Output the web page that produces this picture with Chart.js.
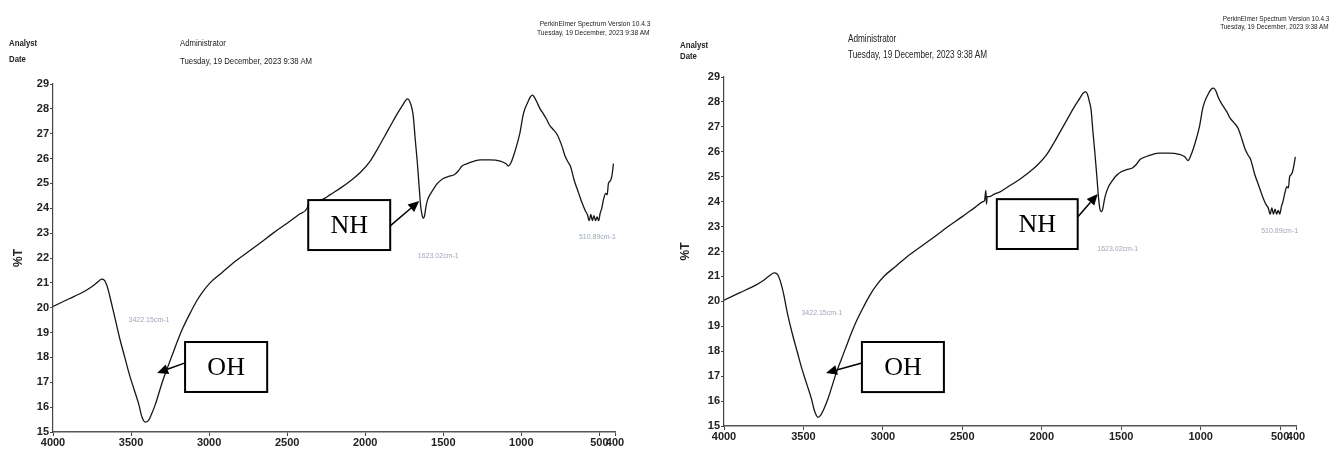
<!DOCTYPE html>
<html>
<head>
<meta charset="utf-8">
<script src="https://cdn.jsdelivr.net/npm/chart.js@4.4.1/dist/chart.umd.min.js"></script>
<style>
  body{ margin:0; background:#fff; width:1334px; height:460px; position:relative; overflow:hidden; }
  .pane{ position:absolute; top:0; width:667px; height:460px; }
  .pane canvas{ position:absolute; left:0; top:0; }
  .txt{ position:absolute; font-family:"Liberation Sans",Arial,sans-serif; color:#222; white-space:nowrap; line-height:1; }
  .l{ transform-origin:left center; }
  .r{ transform-origin:right center; }
  .b{ font-weight:bold; }
</style>
</head>
<body>
<div class="pane" id="leftPane" style="left:0">
  <canvas id="leftCanvas" width="667" height="460"></canvas>
  <div class="txt r" style="right:17px;top:20px;font-size:8px;transform:scaleX(0.83)">PerkinElmer Spectrum Version 10.4.3</div>
  <div class="txt r" style="right:17px;top:29px;font-size:8px;transform:scaleX(0.83)">Tuesday, 19 December, 2023 9:38 AM</div>
  <div class="txt l b" style="left:9px;top:38px;font-size:9.5px;transform:scaleX(0.82)">Analyst</div>
  <div class="txt l b" style="left:9px;top:54px;font-size:9.5px;transform:scaleX(0.82)">Date</div>
  <div class="txt l" style="left:180px;top:38px;font-size:9.5px;transform:scaleX(0.82)">Administrator</div>
  <div class="txt l" style="left:180px;top:56px;font-size:9.5px;transform:scaleX(0.82)">Tuesday, 19 December, 2023 9:38 AM</div>
</div>
<div class="pane" id="rightPane" style="left:667px">
  <canvas id="rightCanvas" width="667" height="460"></canvas>
  <div class="txt r" style="right:5px;top:15px;font-size:8px;transform:scaleX(0.8)">PerkinElmer Spectrum Version 10.4.3</div>
  <div class="txt r" style="right:5px;top:23px;font-size:8px;transform:scaleX(0.8)">Tuesday, 19 December, 2023 9:38 AM</div>
  <div class="txt l b" style="left:13px;top:40px;font-size:9.5px;transform:scaleX(0.82)">Analyst</div>
  <div class="txt l b" style="left:13px;top:51px;font-size:9.5px;transform:scaleX(0.82)">Date</div>
  <div class="txt l" style="left:181px;top:34px;font-size:10px;transform:scaleX(0.82)">Administrator</div>
  <div class="txt l" style="left:181px;top:50px;font-size:10px;transform:scaleX(0.82)">Tuesday, 19 December, 2023 9:38 AM</div>
</div>
<script>
// ---- data ----
const xTicks = [4000, 3500, 3000, 2500, 2000, 1500, 1000, 500, 400];
const yTicks = [15, 16, 17, 18, 19, 20, 21, 22, 23, 24, 25, 26, 27, 28, 29];
const peakLabels = ['3422.15cm-1', '1623.02cm-1', '510.89cm-1'];
const boxLabels = ['OH', 'NH'];

// wavenumber (cm-1) and %T, left spectrum
const leftWave = [4000,3900,3800,3750,3710,3690,3670,3650,3630,3600,3570,3540,3510,3480,3450,3430,3410,3390,3370,3345,3320,3295,3260,3230,3200,3167,3120,3077,3040,2994,2920,2846,2760,2673,2590,2500,2420,2372,2362,2355,2348,2330,2300,2260,2224,2150,2096,2030,1968,1920,1880,1840,1800,1760,1740,1728,1715,1700,1692,1680,1667,1655,1645,1635,1628,1620,1610,1600,1580,1560,1538,1500,1455,1430,1404,1380,1346,1300,1263,1200,1135,1100,1083,1065,1038,1010,987,960,940,929,915,895,880,859,840,820,800,769,740,720,700,686,660,635,610,590,577,565,555,545,535,525,515,505,495,485,474,460,450,442,430,420,410];
const leftT = [20.05,20.35,20.65,20.85,21.05,21.15,21.1,20.8,20.3,19.5,18.7,18.0,17.3,16.7,16.1,15.6,15.4,15.45,15.7,16.1,16.6,17.1,17.7,18.2,18.7,19.2,19.8,20.3,20.65,21.0,21.4,21.8,22.2,22.6,23.0,23.4,23.77,24.0,24.2,24.05,24.25,24.25,24.3,24.4,24.55,24.85,25.1,25.45,25.9,26.4,26.85,27.3,27.75,28.15,28.35,28.4,28.3,28.0,27.7,26.8,25.9,24.9,24.1,23.7,23.6,23.7,24.1,24.35,24.6,24.8,25.0,25.2,25.3,25.35,25.5,25.7,25.8,25.9,25.95,25.95,25.9,25.8,25.7,25.85,26.35,27.0,27.8,28.25,28.5,28.55,28.45,28.2,28.0,27.8,27.6,27.35,27.2,26.95,26.5,26.1,25.85,25.7,25.1,24.65,24.2,23.9,23.75,23.5,23.75,23.5,23.7,23.5,23.65,23.5,23.8,24.0,24.35,24.6,24.55,25.0,25.1,25.3,25.8];

// right spectrum (same sample, small spike near 2350)
const rightWave = [4000,3900,3800,3750,3710,3686,3665,3645,3625,3600,3570,3540,3510,3480,3450,3430,3409,3390,3370,3345,3320,3295,3260,3230,3200,3167,3120,3077,3040,2994,2920,2846,2760,2673,2590,2500,2420,2370,2360,2352,2348,2344,2330,2300,2260,2224,2150,2096,2030,1968,1920,1880,1840,1800,1760,1740,1723,1712,1700,1690,1678,1665,1652,1642,1632,1623,1615,1605,1595,1580,1560,1538,1500,1455,1430,1404,1380,1346,1300,1263,1200,1135,1100,1080,1062,1035,1008,985,958,935,918,905,890,875,855,835,815,795,765,740,720,700,686,660,635,610,590,575,562,552,542,532,522,512,502,492,482,470,458,448,440,428,418,404];
const rightT = [20.05,20.35,20.65,20.85,21.05,21.14,21.1,20.8,20.3,19.5,18.7,18.0,17.3,16.7,16.1,15.6,15.35,15.45,15.7,16.1,16.6,17.1,17.7,18.2,18.7,19.2,19.8,20.3,20.65,21.0,21.4,21.8,22.2,22.6,23.0,23.4,23.77,24.0,24.05,24.45,23.9,24.2,24.2,24.3,24.4,24.55,24.85,25.1,25.45,25.9,26.4,26.85,27.3,27.75,28.15,28.35,28.4,28.3,28.0,27.7,26.8,25.9,24.9,24.1,23.65,23.6,23.75,24.1,24.35,24.6,24.8,25.0,25.2,25.3,25.35,25.5,25.7,25.8,25.9,25.95,25.95,25.9,25.8,25.65,25.85,26.35,27.0,27.8,28.25,28.5,28.55,28.45,28.2,28.0,27.8,27.6,27.35,27.2,26.95,26.5,26.1,25.85,25.7,25.1,24.65,24.2,23.9,23.75,23.5,23.75,23.5,23.7,23.5,23.65,23.5,23.8,24.0,24.35,24.6,24.55,25.0,25.1,25.3,25.8];

let leftChart, rightChart;
const FONT = '"Liberation Sans",Arial,sans-serif';

function $(id){ return document.getElementById(id); }
function pts(xs, ys){ return xs.map((v,i)=>({ x: v, y: ys[i] })); }

function arrow(ctx, x0, y0, x1, y1){
  const a = Math.atan2(y1-y0, x1-x0), len = 11, half = 5;
  const bx = x1 - len*Math.cos(a), by = y1 - len*Math.sin(a);
  ctx.beginPath(); ctx.moveTo(x0, y0); ctx.lineTo(bx, by); ctx.stroke();
  ctx.beginPath();
  ctx.moveTo(x1, y1);
  ctx.lineTo(bx + half*Math.sin(a), by - half*Math.cos(a));
  ctx.lineTo(bx - half*Math.sin(a), by + half*Math.cos(a));
  ctx.closePath(); ctx.fill();
}

// peak labels + boxed group labels, placed in data units
const notesPlugin = {
  id: 'ftirNotes',
  afterDatasetsDraw(chart, args, opts){
    const { ctx, scales: { x, y } } = chart;
    ctx.save();
    ctx.font = '7px "Liberation Sans",sans-serif';
    ctx.fillStyle = '#9ea7ba';
    ctx.textAlign = 'center'; ctx.textBaseline = 'middle';
    opts.peaks.forEach((p,i)=> ctx.fillText(peakLabels[i], x.getPixelForValue(p[0]), y.getPixelForValue(p[1])));

    opts.boxes.forEach((b,i)=>{
      const l = x.getPixelForValue(b.box[0]), r = x.getPixelForValue(b.box[1]);
      const t = y.getPixelForValue(b.box[2]), btm = y.getPixelForValue(b.box[3]);
      ctx.fillStyle = '#fff';
      ctx.fillRect(l, t, r-l, btm-t);
      ctx.strokeStyle = '#000'; ctx.lineWidth = 2;
      ctx.strokeRect(l, t, r-l, btm-t);
      ctx.fillStyle = '#000';
      ctx.font = '26px "Liberation Serif","Times New Roman",serif';
      ctx.fillText(boxLabels[i], (l+r)/2, (t+btm)/2 + 1);
      ctx.lineWidth = 1.5;
      arrow(ctx, x.getPixelForValue(b.from[0]), y.getPixelForValue(b.from[1]),
                 x.getPixelForValue(b.tip[0]), y.getPixelForValue(b.tip[1]));
    });
    ctx.restore();
  }
};

function makeChart(canvasId, xs, ys, frame, notes){
  const tickFont = { family: FONT, size: 11, weight: 'bold' };
  return new Chart($(canvasId).getContext('2d'), {
    type: 'line',
    data: { datasets: [{ data: pts(xs, ys), borderColor: '#161616', borderWidth: 1.3, pointRadius: 0, cubicInterpolationMode: 'monotone', fill: false }] },
    options: {
      responsive: false, animation: false, events: [],
      layout: { padding: { left: 0, top: frame.top, right: frame.right, bottom: 0 } },
      plugins: { legend: { display: false }, tooltip: { enabled: false }, ftirNotes: notes },
      scales: {
        x: {
          type: 'linear', reverse: true, min: 400, max: 4000,
          afterBuildTicks: s => { s.ticks = xTicks.map(v => ({ value: v })); },
          afterFit: s => { s.height = frame.xh; },
          ticks: { autoSkip: false, maxRotation: 0, padding: 0, color: '#222', font: tickFont, callback: v => String(v) },
          grid: { display: true, drawOnChartArea: false, drawTicks: true, tickLength: 4, color: '#444' },
          border: { display: true, color: '#555', width: 1.5 }
        },
        y: {
          type: 'linear', min: 15, max: 29,
          afterBuildTicks: s => { s.ticks = yTicks.map(v => ({ value: v })); },
          afterFit: s => { s.width = frame.yw; },
          ticks: { autoSkip: false, padding: 1, color: '#222', font: tickFont },
          grid: { display: true, drawOnChartArea: false, drawTicks: true, tickLength: 3, color: '#444' },
          border: { display: true, color: '#444', width: 1.2 },
          title: { display: true, text: '%T', color: '#222', font: { family: FONT, size: 12, weight: 'bold' }, padding: { top: 11, bottom: 0 } }
        }
      }
    },
    plugins: [notesPlugin]
  });
}

(function init(){
  leftChart = makeChart('leftCanvas', leftWave, leftT,
    { top: 84, right: 52, yw: 53, xh: 28 },
    {
      peaks: [[3385, 19.5], [1532, 22.08], [513, 22.84]],
      boxes: [
        { box: [3154, 2628, 18.62, 16.61], from: [3154, 17.78], tip: [3333, 17.37] },
        { box: [2365, 1840, 24.33, 22.32], from: [1840, 23.29], tip: [1654, 24.29] }
      ]
    });
  rightChart = makeChart('rightCanvas', rightWave, rightT,
    { top: 77, right: 38, yw: 57, xh: 34 },
    {
      peaks: [[3384, 19.53], [1522, 22.1], [503, 22.82]],
      boxes: [
        { box: [3132, 2616, 18.37, 16.36], from: [3132, 17.53], tip: [3358, 17.13] },
        { box: [2283, 1774, 24.1, 22.1], from: [1774, 23.38], tip: [1648, 24.31] }
      ]
    });
})();
</script>
</body>
</html>
